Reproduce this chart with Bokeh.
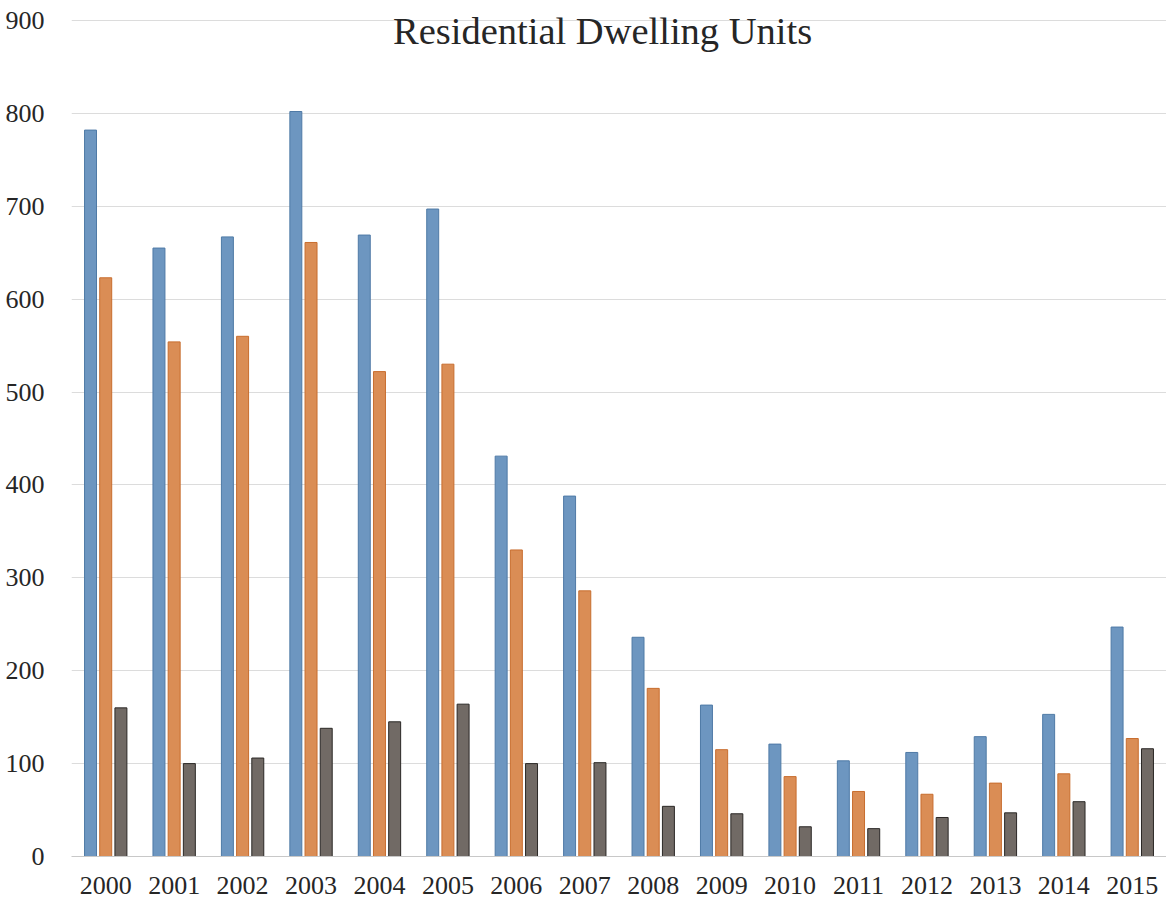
from bokeh.plotting import figure
from bokeh.models import ColumnDataSource, FactorRange, Label
from bokeh.transform import dodge
from bokeh.embed import file_html
from bokeh.resources import INLINE

years = ["2000", "2001", "2002", "2003", "2004", "2005", "2006", "2007",
         "2008", "2009", "2010", "2011", "2012", "2013", "2014", "2015"]
series_a = [782, 655, 667, 802, 669, 697, 431, 388, 236, 163, 121, 103, 112, 129, 153, 247]
series_b = [623, 554, 560, 661, 522, 530, 330, 286, 181, 115, 86, 70, 67, 79, 89, 127]
series_c = [160, 100, 106, 138, 145, 164, 100, 101, 54, 46, 32, 30, 42, 47, 59, 116]
y_ticks = [0, 100, 200, 300, 400, 500, 600, 700, 800, 900]
title_text = "Residential Dwelling Units"

FONT = "Liberation Serif"

src = ColumnDataSource(dict(year=years, a=series_a, b=series_b, c=series_c))

# y range extends slightly above the 900 gridline so the title (drawn in the plot area) is not clipped
p = figure(x_range=FactorRange(*years), y_range=(0, 921.5),
           width=1166, height=900, output_backend="svg", toolbar_location=None,
           min_border_left=71, min_border_top=0, min_border_bottom=44, min_border_right=0)

bw = 0.175
off = 0.222
p.vbar(x=dodge("year", -off, range=p.x_range), top="a", width=bw, source=src,
       fill_color="#6d96c0", line_color="#4f7aa6", line_width=1)
p.vbar(x=dodge("year", 0, range=p.x_range), top="b", width=bw, source=src,
       fill_color="#da8d55", line_color="#c86d2e", line_width=1)
p.vbar(x=dodge("year", off, range=p.x_range), top="c", width=bw, source=src,
       fill_color="#716a65", line_color="#2b2826", line_width=1)

p.outline_line_color = None
p.xgrid.grid_line_color = None
p.ygrid.grid_line_color = "#dcdcdc"
p.ygrid.grid_line_width = 1
p.yaxis.ticker = y_ticks

for ax in (p.xaxis, p.yaxis):
    ax.major_tick_line_color = None
    ax.minor_tick_line_color = None
    ax.major_label_text_font = FONT
    ax.major_label_text_font_size = "26px"
    ax.major_label_text_color = "#262626"
p.yaxis.axis_line_color = None
p.xaxis.axis_line_color = "#c8c8c8"
p.yaxis.major_label_standoff = 21
p.xaxis.major_label_standoff = 14

p.add_layout(Label(x=7.76, y=889, text=title_text, text_font=FONT,
                   text_font_size="38.5px", text_color="#262626",
                   text_align="center", text_baseline="alphabetic"))

open("out.html", "w").write(file_html(p, INLINE))
